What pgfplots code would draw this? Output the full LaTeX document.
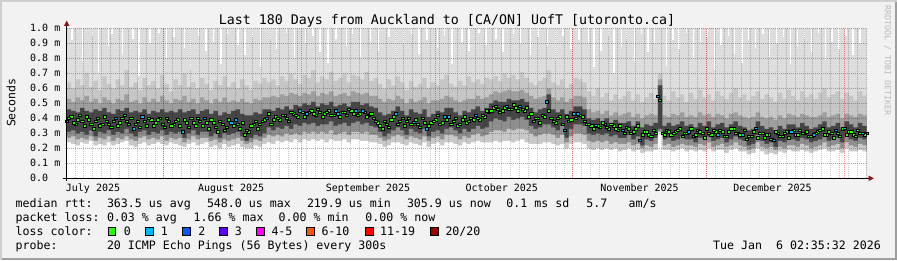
\documentclass[border=0pt]{standalone}
\usepackage{fontspec}
\usepackage{pgfplots}
\usepackage{pgfplotstable}
\pgfplotsset{compat=1.18}
\newfontfamily\dvm{DejaVu Sans Mono}
\definecolor{bgc}{HTML}{F2F2F2}
\definecolor{shA}{HTML}{CFCFCF}
\definecolor{shB}{HTML}{9E9E9E}
\definecolor{sk1}{HTML}{DDDDDD}
\definecolor{sk2}{HTML}{C6C6C6}
\definecolor{sk3}{HTML}{9E9E9E}
\definecolor{sk4}{HTML}{464646}
\definecolor{sk5}{HTML}{8E8E8E}
\definecolor{sk6}{HTML}{C8C8C8}
\definecolor{lc0}{HTML}{26FF00}
\definecolor{lc1}{HTML}{00B8FF}
\definecolor{lc2}{HTML}{0059FF}
\definecolor{lc3}{HTML}{5E00FF}
\definecolor{lc4}{HTML}{FF00FF}
\definecolor{lc6}{HTML}{FF5500}
\definecolor{lc11}{HTML}{FF0000}
\definecolor{lc20}{HTML}{A10000}
\definecolor{arr}{HTML}{8C1414}
\newcommand\lf{\dvm\fontsize{11.6bp}{14bp}\selectfont}

\pgfplotstableread{
x h2 h1 ct med cb l1 mn
0 0.64 0.53 0.46 0.38 0.31 0.27 0.24
1 0.60 0.51 0.45 0.41 0.32 0.28 0.23
2 0.66 0.54 0.44 0.36 0.30 0.26 0.22
3 0.62 0.52 0.47 0.42 0.31 0.27 0.24
4 0.70 0.55 0.45 0.35 0.29 0.26 0.23
5 0.61 0.51 0.44 0.39 0.32 0.28 0.25
6 0.65 0.53 0.46 0.33 0.28 0.25 0.22
7 0.59 0.50 0.45 0.40 0.31 0.27 0.23
8 0.68 0.54 0.47 0.36 0.30 0.26 0.22
9 0.63 0.52 0.44 0.38 0.32 0.28 0.24
10 0.60 0.50 0.43 0.34 0.29 0.25 0.22
11 0.66 0.53 0.46 0.40 0.31 0.27 0.23
12 0.62 0.52 0.45 0.37 0.30 0.26 0.24
13 0.72 0.56 0.47 0.42 0.33 0.28 0.25
14 0.61 0.51 0.44 0.36 0.30 0.26 0.22
15 0.64 0.52 0.45 0.33 0.28 0.25 0.21
16 0.59 0.50 0.44 0.38 0.31 0.27 0.23
17 0.67 0.54 0.46 0.41 0.32 0.28 0.24
18 0.62 0.51 0.43 0.35 0.29 0.26 0.22
19 0.65 0.53 0.45 0.39 0.31 0.27 0.23
20 0.60 0.51 0.44 0.37 0.30 0.26 0.24
21 0.69 0.55 0.46 0.40 0.32 0.28 0.23
22 0.63 0.52 0.44 0.34 0.29 0.25 0.22
23 0.58 0.50 0.45 0.38 0.31 0.27 0.24
24 0.66 0.53 0.44 0.36 0.30 0.26 0.23
25 0.62 0.52 0.46 0.39 0.31 0.27 0.22
26 0.70 0.55 0.44 0.31 0.27 0.24 0.21
27 0.61 0.51 0.45 0.37 0.30 0.26 0.23
28 0.64 0.53 0.46 0.40 0.32 0.28 0.24
29 0.60 0.50 0.43 0.35 0.29 0.26 0.22
30 0.67 0.54 0.45 0.38 0.31 0.27 0.23
31 0.63 0.52 0.46 0.40 0.31 0.27 0.24
32 0.59 0.50 0.43 0.33 0.28 0.25 0.21
33 0.65 0.53 0.45 0.37 0.30 0.26 0.22
34 0.62 0.51 0.42 0.31 0.27 0.24 0.20
35 0.68 0.54 0.44 0.36 0.30 0.26 0.23
36 0.61 0.51 0.43 0.34 0.29 0.25 0.21
37 0.64 0.52 0.45 0.37 0.30 0.26 0.22
38 0.60 0.51 0.46 0.39 0.31 0.27 0.23
39 0.66 0.53 0.43 0.33 0.28 0.25 0.21
40 0.62 0.51 0.42 0.29 0.25 0.23 0.20
41 0.59 0.50 0.42 0.31 0.27 0.24 0.20
42 0.65 0.53 0.44 0.36 0.29 0.26 0.22
43 0.63 0.52 0.43 0.33 0.28 0.25 0.21
44 0.67 0.54 0.46 0.38 0.30 0.27 0.23
45 0.64 0.54 0.46 0.40 0.34 0.29 0.24
46 0.66 0.55 0.45 0.36 0.32 0.28 0.23
47 0.62 0.54 0.47 0.41 0.34 0.29 0.25
48 0.68 0.56 0.46 0.39 0.33 0.28 0.24
49 0.65 0.55 0.48 0.42 0.35 0.30 0.25
50 0.70 0.57 0.46 0.38 0.33 0.29 0.24
51 0.66 0.56 0.49 0.43 0.36 0.30 0.26
52 0.63 0.55 0.48 0.41 0.35 0.29 0.24
53 0.69 0.57 0.50 0.44 0.37 0.31 0.26
54 0.67 0.56 0.49 0.43 0.36 0.30 0.25
55 0.72 0.58 0.51 0.45 0.37 0.31 0.26
56 0.64 0.55 0.48 0.42 0.35 0.30 0.25
57 0.68 0.57 0.50 0.44 0.36 0.31 0.26
58 0.66 0.56 0.49 0.43 0.36 0.30 0.24
59 0.71 0.58 0.51 0.45 0.38 0.32 0.26
60 0.65 0.55 0.48 0.42 0.35 0.29 0.25
61 0.67 0.56 0.49 0.43 0.36 0.30 0.25
62 0.70 0.57 0.50 0.44 0.37 0.31 0.26
63 0.64 0.55 0.48 0.42 0.35 0.29 0.24
64 0.69 0.58 0.51 0.45 0.37 0.31 0.26
65 0.68 0.57 0.51 0.45 0.38 0.31 0.26
66 0.66 0.56 0.49 0.43 0.36 0.30 0.25
67 0.71 0.57 0.50 0.44 0.37 0.31 0.25
68 0.65 0.55 0.48 0.42 0.35 0.29 0.24
69 0.67 0.55 0.47 0.40 0.34 0.29 0.24
70 0.63 0.53 0.44 0.37 0.31 0.27 0.23
71 0.60 0.51 0.42 0.33 0.28 0.25 0.21
72 0.66 0.53 0.43 0.36 0.30 0.26 0.22
73 0.62 0.52 0.45 0.39 0.32 0.28 0.24
74 0.68 0.55 0.48 0.43 0.34 0.29 0.24
75 0.64 0.53 0.45 0.38 0.32 0.28 0.23
76 0.59 0.50 0.42 0.35 0.29 0.26 0.22
77 0.65 0.53 0.46 0.40 0.33 0.28 0.24
78 0.61 0.51 0.44 0.375 0.31 0.27 0.23
79 0.63 0.52 0.43 0.36 0.30 0.26 0.22
80 0.67 0.54 0.46 0.40 0.33 0.28 0.24
81 0.60 0.50 0.41 0.33 0.28 0.25 0.21
82 0.64 0.52 0.43 0.37 0.31 0.27 0.23
83 0.62 0.52 0.45 0.39 0.32 0.28 0.24
84 0.66 0.53 0.44 0.36 0.30 0.26 0.22
85 0.69 0.55 0.47 0.41 0.33 0.29 0.24
86 0.63 0.54 0.47 0.41 0.34 0.29 0.24
87 0.61 0.52 0.44 0.38 0.32 0.28 0.23
88 0.65 0.51 0.42 0.35 0.30 0.26 0.22
89 0.62 0.52 0.45 0.39 0.33 0.28 0.24
90 0.68 0.53 0.44 0.37 0.31 0.27 0.23
91 0.64 0.53 0.46 0.40 0.33 0.29 0.24
92 0.66 0.55 0.48 0.42 0.35 0.30 0.25
93 0.63 0.53 0.45 0.39 0.33 0.28 0.24
94 0.67 0.54 0.47 0.41 0.34 0.29 0.24
95 0.66 0.56 0.50 0.44 0.38 0.31 0.24
96 0.68 0.58 0.52 0.47 0.40 0.32 0.25
97 0.65 0.57 0.51 0.46 0.39 0.32 0.24
98 0.70 0.58 0.51 0.45 0.38 0.31 0.25
99 0.67 0.59 0.53 0.48 0.41 0.33 0.25
100 0.69 0.58 0.52 0.46 0.39 0.32 0.24
101 0.66 0.58 0.52 0.47 0.40 0.33 0.25
102 0.71 0.59 0.53 0.48 0.41 0.33 0.26
103 0.67 0.57 0.51 0.45 0.39 0.32 0.24
104 0.64 0.55 0.47 0.41 0.35 0.30 0.23
105 0.62 0.53 0.44 0.38 0.33 0.28 0.23
106 0.65 0.54 0.46 0.40 0.34 0.29 0.23
107 0.67 0.55 0.47 0.42 0.36 0.30 0.24
108 0.72 0.60 0.56 0.51 0.36 0.30 0.24
109 0.64 0.54 0.46 0.40 0.34 0.29 0.23
110 0.62 0.52 0.44 0.37 0.32 0.27 0.22
111 0.66 0.54 0.46 0.41 0.35 0.29 0.23
112 0.60 0.51 0.43 0.32 0.27 0.24 0.20
113 0.63 0.53 0.45 0.38 0.33 0.28 0.23
114 0.67 0.55 0.48 0.43 0.36 0.30 0.24
115 0.66 0.55 0.48 0.43 0.36 0.30 0.24
116 0.64 0.54 0.46 0.41 0.35 0.29 0.23
117 0.58 0.46 0.40 0.36 0.30 0.25 0.20
118 0.55 0.44 0.39 0.35 0.29 0.24 0.19
119 0.60 0.45 0.40 0.355 0.30 0.25 0.20
120 0.54 0.43 0.38 0.34 0.29 0.24 0.19
121 0.57 0.45 0.40 0.36 0.30 0.25 0.20
122 0.52 0.42 0.37 0.33 0.28 0.23 0.19
123 0.56 0.44 0.39 0.35 0.29 0.24 0.20
124 0.53 0.42 0.37 0.32 0.27 0.23 0.18
125 0.55 0.43 0.37 0.32 0.27 0.23 0.19
126 0.58 0.44 0.38 0.34 0.29 0.24 0.20
127 0.52 0.41 0.35 0.30 0.26 0.22 0.18
128 0.56 0.43 0.38 0.33 0.28 0.23 0.19
129 0.51 0.40 0.34 0.255 0.22 0.20 0.17
130 0.54 0.42 0.36 0.31 0.26 0.22 0.18
131 0.57 0.43 0.35 0.29 0.25 0.21 0.18
132 0.53 0.42 0.37 0.32 0.27 0.23 0.19
133 0.70 0.66 0.62 0.545 0.33 0.31 0.31
134 0.55 0.42 0.35 0.30 0.26 0.22 0.19
135 0.52 0.41 0.37 0.32 0.27 0.23 0.19
136 0.58 0.43 0.35 0.29 0.25 0.21 0.18
137 0.54 0.42 0.36 0.31 0.26 0.22 0.19
138 0.56 0.44 0.38 0.33 0.28 0.23 0.20
139 0.51 0.41 0.35 0.30 0.26 0.22 0.18
140 0.57 0.42 0.36 0.31 0.26 0.22 0.19
141 0.53 0.41 0.34 0.28 0.24 0.21 0.18
142 0.59 0.44 0.37 0.32 0.27 0.23 0.19
143 0.54 0.42 0.35 0.30 0.26 0.22 0.18
144 0.56 0.43 0.38 0.33 0.28 0.24 0.20
145 0.52 0.41 0.34 0.29 0.25 0.21 0.18
146 0.58 0.43 0.36 0.31 0.26 0.22 0.19
147 0.55 0.42 0.37 0.32 0.27 0.23 0.19
148 0.53 0.40 0.34 0.28 0.24 0.21 0.17
149 0.57 0.43 0.36 0.31 0.26 0.22 0.19
150 0.60 0.44 0.38 0.33 0.28 0.24 0.20
151 0.54 0.42 0.35 0.30 0.26 0.22 0.18
152 0.56 0.41 0.34 0.29 0.25 0.21 0.18
153 0.52 0.40 0.32 0.26 0.22 0.19 0.16
154 0.55 0.41 0.33 0.28 0.23 0.20 0.17
155 0.58 0.44 0.38 0.335 0.29 0.24 0.20
156 0.53 0.41 0.35 0.30 0.25 0.21 0.18
157 0.56 0.40 0.33 0.27 0.23 0.20 0.16
158 0.54 0.41 0.34 0.29 0.24 0.21 0.17
159 0.51 0.39 0.32 0.255 0.21 0.19 0.16
160 0.57 0.42 0.35 0.30 0.25 0.21 0.18
161 0.53 0.40 0.33 0.28 0.24 0.20 0.17
162 0.59 0.43 0.36 0.31 0.26 0.22 0.19
163 0.55 0.42 0.36 0.31 0.26 0.22 0.18
164 0.52 0.41 0.34 0.29 0.25 0.21 0.18
165 0.58 0.43 0.37 0.32 0.27 0.23 0.19
166 0.54 0.42 0.35 0.30 0.26 0.22 0.18
167 0.56 0.41 0.33 0.28 0.24 0.20 0.17
168 0.53 0.41 0.34 0.29 0.25 0.21 0.18
169 0.57 0.42 0.36 0.31 0.26 0.22 0.19
170 0.60 0.44 0.38 0.33 0.28 0.24 0.20
171 0.54 0.41 0.34 0.29 0.25 0.21 0.18
172 0.56 0.42 0.35 0.30 0.26 0.22 0.18
173 0.58 0.43 0.37 0.32 0.27 0.23 0.19
174 0.53 0.40 0.33 0.28 0.24 0.20 0.17
175 0.57 0.43 0.38 0.335 0.28 0.24 0.20
176 0.55 0.42 0.36 0.31 0.26 0.22 0.18
177 0.52 0.41 0.34 0.29 0.25 0.21 0.18
178 0.58 0.43 0.37 0.32 0.27 0.23 0.19
179 0.55 0.42 0.35 0.30 0.26 0.22 0.18
180 0.55 0.42 0.35 0.30 0.26 0.22 0.18
}\smoke

\begin{document}
\begin{tikzpicture}[x=1bp,y=1bp]
\fill[bgc] (0,0) rectangle (897,260);
\fill[shA] (0,0) rectangle (2,260);
\fill[shA] (0,258) rectangle (897,260);
\fill[shB] (895,0) rectangle (897,258);
\fill[shB] (2,0) rectangle (897,2);

\begin{axis}[
  at={(66.7bp,81.7bp)}, anchor=south west,
  scale only axis, width=800bp, height=150bp,
  xmin=0, xmax=180, ymin=0, ymax=1,
  axis line style={draw=none},
  major tick length=0pt, minor tick length=0pt,
  axis on top,
  xtick={21.89,52.89,82.89,113.89,143.89,174.89},
  xticklabels={},
  minor xtick={1.89,3.89,...,179.89},
  extra x ticks={5.92,37.0,67.8,97.9,128.9,158.8},
  extra x tick labels={July 2025,August 2025,September 2025,October 2025,November 2025,December 2025},
  extra x tick style={grid=none},
  xmajorgrids, xminorgrids, ymajorgrids,
  ytick={0,0.1,0.2,0.3,0.4,0.5,0.6,0.7,0.8,0.9,1.0},
  yticklabels={0.0,0.1 m,0.2 m,0.3 m,0.4 m,0.5 m,0.6 m,0.7 m,0.8 m,0.9 m,1.0 m},
  tick label style={font=\dvm\fontsize{10bp}{12bp}\selectfont},
  yticklabel style={anchor=west, inner sep=0pt, xshift=-36.7bp},
  xticklabel style={anchor=base, inner sep=0pt, yshift=-12.7bp},
  major grid style={draw=red, opacity=0.45, line width=1bp, dash pattern=on 1bp off 1bp},
  minor grid style={draw=black, opacity=0.22, line width=1bp, dash pattern=on 1bp off 1bp},
]
\addplot[fill=sk1, draw=none] coordinates {(0,1.2) (180,1.2)} \closedcycle;
\addplot[const plot, fill=sk2, draw=none] table[x=x,y=h2]{\smoke} \closedcycle;
\addplot[const plot, fill=sk3, draw=none] table[x=x,y=h1]{\smoke} \closedcycle;
\addplot[const plot, fill=sk4, draw=none] table[x=x,y=ct]{\smoke} \closedcycle;
\addplot[const plot, fill=sk5, draw=none] table[x=x,y=cb]{\smoke} \closedcycle;
\addplot[const plot, fill=sk6, draw=none] table[x=x,y=l1]{\smoke} \closedcycle;
\addplot[const plot, fill=white, draw=none] table[x=x,y=mn]{\smoke} \closedcycle;
% white gaps at the top of the smoke (max below the chart top)
\addplot[draw=none, error bars/.cd, y dir=plus, y explicit, error mark=none,
  error bar style={draw=white, line width=1.4bp}] coordinates {
(1.2,0.92) +- (0,0.5) (3.5,0.78) +- (0,0.5) (5.8,0.95) +- (0,0.5) (7.1,0.70) +- (0,0.5)
(9.4,0.88) +- (0,0.5) (10.2,0.96) +- (0,0.5) (12.6,0.83) +- (0,0.5) (14.9,0.93) +- (0,0.5)
(16.3,0.68) +- (0,0.5) (18.7,0.90) +- (0,0.5) (20.8,0.97) +- (0,0.5) (22.4,0.80) +- (0,0.5)
(24.1,0.94) +- (0,0.5) (26.5,0.87) +- (0,0.5) (27.9,0.72) +- (0,0.5) (29.6,0.95) +- (0,0.5)
(31.3,0.85) +- (0,0.5) (33.0,0.91) +- (0,0.5) (34.7,0.76) +- (0,0.5) (36.2,0.96) +- (0,0.5)
(38.5,0.89) +- (0,0.5) (40.1,0.82) +- (0,0.5) (41.8,0.94) +- (0,0.5) (43.6,0.74) +- (0,0.5)
(45.9,0.92) +- (0,0.5) (47.2,0.86) +- (0,0.5) (49.5,0.97) +- (0,0.5) (51.3,0.80) +- (0,0.5)
(53.7,0.90) +- (0,0.5) (55.4,0.95) +- (0,0.5) (57.0,0.84) +- (0,0.5) (58.8,0.77) +- (0,0.5)
(60.6,0.93) +- (0,0.5) (62.9,0.88) +- (0,0.5) (64.3,0.96) +- (0,0.5) (66.1,0.81) +- (0,0.5)
(68.4,0.91) +- (0,0.5) (70.2,0.85) +- (0,0.5) (72.5,0.94) +- (0,0.5) (74.0,0.79) +- (0,0.5)
(75.8,0.90) +- (0,0.5) (77.6,0.96) +- (0,0.5) (79.3,0.83) +- (0,0.5) (81.1,0.92) +- (0,0.5)
(83.4,0.87) +- (0,0.5) (85.0,0.95) +- (0,0.5) (86.7,0.76) +- (0,0.5) (88.9,0.91) +- (0,0.5)
(90.5,0.85) +- (0,0.5) (92.8,0.97) +- (0,0.5) (94.3,0.89) +- (0,0.5) (96.6,0.93) +- (0,0.5)
(98.2,0.84) +- (0,0.5) (100.5,0.96) +- (0,0.5) (102.1,0.90) +- (0,0.5) (104.4,0.82) +- (0,0.5)
(106.0,0.94) +- (0,0.5) (108.2,0.88) +- (0,0.5) (110.0,0.79) +- (0,0.5) (111.7,0.95) +- (0,0.5)
(113.5,0.86) +- (0,0.5) (115.3,0.92) +- (0,0.5) (117.4,0.90) +- (0,0.5) (118.6,0.74) +- (0,0.5)
(120.2,0.85) +- (0,0.5) (121.9,0.95) +- (0,0.5) (123.1,0.70) +- (0,0.5) (124.8,0.88) +- (0,0.5)
(126.0,0.93) +- (0,0.5) (127.7,0.78) +- (0,0.5) (129.3,0.96) +- (0,0.5) (130.8,0.84) +- (0,0.5)
(132.2,0.90) +- (0,0.5) (134.9,0.75) +- (0,0.5) (136.4,0.92) +- (0,0.5) (137.8,0.86) +- (0,0.5)
(139.5,0.97) +- (0,0.5) (141.0,0.80) +- (0,0.5) (142.6,0.91) +- (0,0.5) (144.1,0.94) +- (0,0.5)
(145.7,0.72) +- (0,0.5) (147.2,0.89) +- (0,0.5) (148.9,0.95) +- (0,0.5) (150.3,0.83) +- (0,0.5)
(151.9,0.77) +- (0,0.5) (153.4,0.92) +- (0,0.5) (155.0,0.87) +- (0,0.5) (156.7,0.96) +- (0,0.5)
(158.1,0.81) +- (0,0.5) (159.8,0.90) +- (0,0.5) (161.3,0.94) +- (0,0.5) (162.9,0.76) +- (0,0.5)
(164.4,0.88) +- (0,0.5) (166.0,0.93) +- (0,0.5) (167.6,0.84) +- (0,0.5) (169.1,0.97) +- (0,0.5)
(170.7,0.79) +- (0,0.5) (172.2,0.91) +- (0,0.5) (173.8,0.86) +- (0,0.5) (175.3,0.95) +- (0,0.5)
(176.9,0.82) +- (0,0.5) (178.5,0.90) +- (0,0.5)
};
% median, 0 loss
\addplot[only marks, mark=square*, mark size=1.2bp, mark options={draw=none, fill=lc0, xscale=1.3, yscale=0.95}] table[x=x,y=med]{\smoke};
\addplot[only marks, mark=square*, mark size=1.2bp, mark options={draw=none, fill=lc0, xscale=1.3, yscale=0.95}] coordinates {
(0.5,0.40) (1.5,0.37) (2.5,0.39) (3.5,0.38) (4.5,0.41) (5.5,0.36) (6.5,0.38) (7.5,0.35) (8.5,0.41) (9.5,0.36)
(10.5,0.38) (11.5,0.35) (12.5,0.40) (13.5,0.38) (14.5,0.40) (15.5,0.36) (16.5,0.34) (17.5,0.38) (18.5,0.40) (19.5,0.35)
(20.5,0.39) (21.5,0.36) (22.5,0.40) (23.5,0.35) (24.5,0.38) (25.5,0.35) (26.5,0.39) (27.5,0.34) (28.5,0.37) (29.5,0.40)
(30.5,0.35) (31.5,0.37) (32.5,0.39) (33.5,0.34) (34.5,0.38) (35.5,0.32) (36.5,0.39) (37.5,0.35) (38.5,0.36) (39.5,0.37)
(40.5,0.32) (41.5,0.35) (42.5,0.38) (43.5,0.36) (44.5,0.39)
(45.5,0.43) (46.5,0.39) (47.5,0.40) (48.5,0.42) (49.5,0.40) (50.5,0.44) (51.5,0.42) (52.5,0.45) (53.5,0.41) (54.5,0.44)
(55.5,0.43) (56.5,0.46) (57.5,0.41) (58.5,0.44) (59.5,0.42) (60.5,0.45) (61.5,0.41) (62.5,0.44) (63.5,0.46) (64.5,0.43)
(65.5,0.42) (66.5,0.45) (67.5,0.41) (68.5,0.43) (69.5,0.38)
(70.5,0.35) (71.5,0.38) (72.5,0.34) (73.5,0.41) (74.5,0.36) (75.5,0.40) (76.5,0.38) (77.5,0.36) (78.5,0.39) (79.5,0.34)
(80.5,0.37) (81.5,0.35) (82.5,0.38) (83.5,0.42) (84.5,0.37) (85.5,0.39) (86.5,0.36) (87.5,0.40) (88.5,0.36) (89.5,0.41)
(90.5,0.38) (91.5,0.39) (92.5,0.40) (93.5,0.42) (94.5,0.45)
(95.5,0.45) (96.5,0.48) (97.5,0.44) (98.5,0.47) (99.5,0.46) (100.5,0.49) (101.5,0.45) (102.5,0.46) (103.5,0.47) (104.5,0.43)
(105.5,0.40) (106.5,0.37) (107.5,0.41) (108.5,0.45) (109.5,0.38) (110.5,0.40) (111.5,0.36) (112.5,0.41) (113.5,0.39) (114.5,0.40)
(115.5,0.42) (116.5,0.38)
(117.5,0.36) (118.5,0.33) (119.5,0.35) (120.5,0.37) (121.5,0.34) (122.5,0.36) (123.5,0.33) (124.5,0.35) (125.5,0.30) (126.5,0.33)
(127.5,0.31) (128.5,0.35) (129.5,0.29) (130.5,0.31) (131.5,0.28) (132.5,0.30) (133.5,0.52) (134.5,0.29) (135.5,0.31) (136.5,0.30)
(137.5,0.32) (138.5,0.28) (139.5,0.30) (140.5,0.33) (141.5,0.29) (142.5,0.31) (143.5,0.27) (144.5,0.30) (145.5,0.32) (146.5,0.29)
(147.5,0.31) (148.5,0.28) (149.5,0.33) (150.5,0.30) (151.5,0.29) (152.5,0.32) (153.5,0.28) (154.5,0.31) (155.5,0.27) (156.5,0.30)
(157.5,0.29) (158.5,0.26) (159.5,0.31) (160.5,0.28) (161.5,0.30) (162.5,0.27) (163.5,0.32) (164.5,0.29) (165.5,0.30) (166.5,0.31)
(167.5,0.28) (168.5,0.30) (169.5,0.32) (170.5,0.29) (171.5,0.31) (172.5,0.27) (173.5,0.30) (174.5,0.33) (175.5,0.29) (176.5,0.31)
(177.5,0.28) (178.5,0.30) (179.5,0.29)
};
% median, 1 loss
\addplot[only marks, mark=square*, mark size=1.2bp, mark options={draw=none, fill=lc1, xscale=1.3, yscale=0.95}] coordinates {
(0,0.38) (11,0.40) (15,0.33) (17,0.41) (26,0.31) (31,0.40) (37,0.37) (38,0.39) (45,0.40) (52.5,0.45)
(54,0.43) (60.5,0.45) (61,0.43) (65,0.45) (66.5,0.45) (74,0.43) (78,0.375) (81,0.33) (85,0.41) (86,0.41)
(92,0.42) (99,0.48) (102,0.48) (108,0.51) (112,0.32) (114,0.43) (115,0.43) (119,0.355) (125,0.32) (129,0.255)
(133,0.545) (140,0.31) (146.5,0.29) (152,0.29) (155,0.335) (159,0.255) (163,0.31) (168,0.29) (173,0.32) (175,0.335) (179,0.30)
};
\end{axis}

% axes and arrows
\draw[black, line width=1bp] (62.7,81.7) -- (869,81.7);
\draw[black, line width=1bp] (66.7,79.2) -- (66.7,235);
\fill[arr] (63.9,234) -- (69.5,234) -- (66.7,239.4) -- cycle;
\fill[arr] (868.5,84.5) -- (868.5,78.9) -- (873.8,81.7) -- cycle;

% title and labels
\node[anchor=base, inner sep=0pt, font=\dvm\fontsize{13.3bp}{16bp}\selectfont] at (447,236) {Last 180 Days from Auckland to [CA/ON] UofT [utoronto.ca]};
\node[rotate=90, anchor=center, inner sep=0pt, font=\dvm\fontsize{11.5bp}{14bp}\selectfont] at (11.2,157.3) {Seconds};
\node[rotate=-90, anchor=west, inner sep=0pt, text={rgb,255:red,185;green,185;blue,185}, font=\dvm\fontsize{8.3bp}{10bp}\selectfont] at (887.5,255) {RRDTOOL / TOBI OETIKER};

% legend
\begin{scope}[every node/.style={anchor=base west, inner sep=0pt, font=\lf}]
\node at (15.5,52.3) {median rtt:};
\node at (106.8,52.3) {363.5 us avg};
\node at (206.8,52.3) {548.0 us max};
\node at (306.8,52.3) {219.9 us min};
\node at (406.8,52.3) {305.9 us now};
\node at (506.2,52.3) {0.1 ms sd};
\node at (586.2,52.3) {5.7};
\node at (628.5,52.3) {am/s};
\node at (15.5,38.3) {packet loss:};
\node at (106.8,38.3) {0.03 \% avg};
\node at (193.5,38.3) {1.66 \% max};
\node at (278.5,38.3) {0.00 \% min};
\node at (365.2,38.3) {0.00 \% now};
\node at (15.5,24.5) {loss color:};
\node at (123.6,24.5) {0};
\node at (160.6,24.5) {1};
\node at (198.2,24.5) {2};
\node at (234.6,24.5) {3};
\node at (271.3,24.5) {4-5};
\node at (321.3,24.5) {6-10};
\node at (380.0,24.5) {11-19};
\node at (445.3,24.5) {20/20};
\node at (15.5,10.3) {probe:};
\node at (106.8,10.3) {20 ICMP Echo Pings (56 Bytes) every 300s};
\node at (713.0,10.3) {Tue Jan\ \ 6 02:35:32 2026};
\end{scope}
\begin{scope}[line width=0.8bp]
\filldraw[fill=lc0, draw=black] (108.3,24.2) rectangle ++(7.4,8.8);
\filldraw[fill=lc1, draw=black] (145.6,24.2) rectangle ++(7.4,8.8);
\filldraw[fill=lc2, draw=black] (182.6,24.2) rectangle ++(7.4,8.8);
\filldraw[fill=lc3, draw=black] (219.7,24.2) rectangle ++(7.4,8.8);
\filldraw[fill=lc4, draw=black] (256.6,24.2) rectangle ++(7.4,8.8);
\filldraw[fill=lc6, draw=black] (306.6,24.2) rectangle ++(7.4,8.8);
\filldraw[fill=lc11, draw=black] (365.6,24.2) rectangle ++(7.4,8.8);
\filldraw[fill=lc20, draw=black] (430.7,24.2) rectangle ++(7.4,8.8);
\end{scope}

\pgfresetboundingbox
\path[use as bounding box] (0,0) rectangle (897,260);
\end{tikzpicture}
\end{document}
